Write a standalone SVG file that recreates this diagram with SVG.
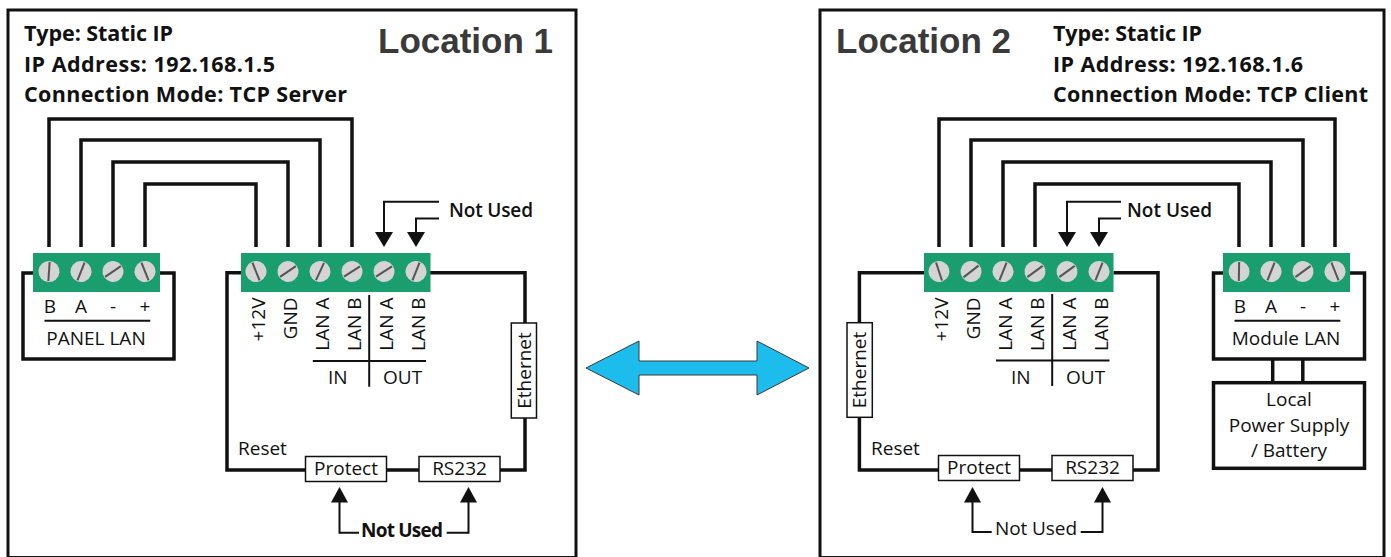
<svg xmlns="http://www.w3.org/2000/svg" width="1391" height="557" viewBox="0 0 1391 557">
<style>
.frame{fill:#fff;stroke:#111;stroke-width:3}
.wire{fill:none;stroke:#111;stroke-width:3.5;stroke-linejoin:miter}
.outline{fill:none;stroke:#111;stroke-width:3.5}
.lead{fill:none;stroke:#111;stroke-width:2}
.thin{fill:#fff;stroke:#111;stroke-width:1.5}
.green{fill:#1b9e6f}
.scr circle{fill:#d4d4d4}
.scr line{stroke:#555;stroke-width:2}
.t{font-family:"Open Sans","Liberation Sans",sans-serif;font-size:19px;fill:#111}
.info{font-family:"Open Sans","Liberation Sans",sans-serif;font-size:21.5px;font-weight:700;fill:#111}
.title{font-family:"Liberation Sans",Arial,sans-serif;font-size:35px;font-weight:700;fill:#3a3a3a}
.nu{font-family:"Open Sans","Liberation Sans",sans-serif;font-size:19px;fill:#111}
.m{text-anchor:middle}
.div{stroke:#111;stroke-width:2}
.head{fill:#111}
</style>
<defs>
<g id="s" class="scr"><circle r="10.5"/><line x1="0" y1="-9.5" x2="0" y2="9.5"/></g>
</defs>

<g id="location1">
<rect class="frame" x="8" y="10" width="568" height="547.5"/>
<text class="info" x="24" y="41" textLength="149">Type: Static IP</text>
<text class="info" x="24" y="72" textLength="251">IP Address: 192.168.1.5</text>
<text class="info" x="24" y="102" textLength="323">Connection Mode: TCP Server</text>
<text class="title" x="378" y="53">Location 1</text>
</g>

<g id="location2">
<rect class="frame" x="820" y="10" width="564" height="547.5"/>
<text class="title" x="836" y="53">Location 2</text>
<text class="info" x="1053" y="41" textLength="149">Type: Static IP</text>
<text class="info" x="1053" y="72" textLength="250">IP Address: 192.168.1.6</text>
<text class="info" x="1053" y="102" textLength="315">Connection Mode: TCP Client</text>
</g>

<g id="connectors">
<path class="wire" d="M49,247V119H352V247"/>
<path class="wire" d="M81,247V140H320V247"/>
<path class="wire" d="M113,247V162H288V247"/>
<path class="wire" d="M145,247V184H256V247"/>
<path class="wire" d="M939,247V119H1335V247"/>
<path class="wire" d="M971,247V140H1303V247"/>
<path class="wire" d="M1003,247V162H1271V247"/>
<path class="wire" d="M1035,247V184H1239V247"/>
<path class="wire" d="M1272.7,359V383"/>
<path class="wire" d="M1302.8,359V383"/>
<polygon id="link-arrow" points="586,368 639,341 639,361 757,361 757,341 809,368 757,395 757,375 639,375 639,395" fill="#1cbcec" stroke="#3a3a3a" stroke-width="1"/>
</g>

<g id="panel-lan">
<rect class="outline" x="23" y="273" width="151" height="86"/>
<rect class="green" x="33" y="253" width="127" height="39"/>
<use href="#s" transform="translate(49,271.5) rotate(4)"/>
<use href="#s" transform="translate(81,271.5) rotate(22)"/>
<use href="#s" transform="translate(113,271.5) rotate(56)"/>
<use href="#s" transform="translate(145,271.5) rotate(-22)"/>
<text class="t m" x="50" y="313">B</text>
<text class="t m" x="81" y="313">A</text>
<text class="t m" x="113" y="313">-</text>
<text class="t m" x="145" y="313">+</text>
<line class="div" x1="44.5" y1="320.7" x2="150.3" y2="320.7"/>
<text class="t m" x="96" y="345">PANEL LAN</text>
</g>

<g id="module1">
<path class="outline" d="M241,272.7H227V470H525V272.7H430"/>
<rect class="green" x="241" y="253" width="189.5" height="39"/>
<use href="#s" transform="translate(256,271.5) rotate(-22)"/>
<use href="#s" transform="translate(288,271.5) rotate(56)"/>
<use href="#s" transform="translate(320,271.5) rotate(25)"/>
<use href="#s" transform="translate(352,271.5) rotate(57)"/>
<use href="#s" transform="translate(384,271.5) rotate(57)"/>
<use href="#s" transform="translate(416,271.5) rotate(22)"/>
<text class="t" text-anchor="end" transform="translate(265,297.5) rotate(-90)">+12V</text>
<text class="t" text-anchor="end" transform="translate(297,297.5) rotate(-90)">GND</text>
<text class="t" text-anchor="end" transform="translate(329,297.5) rotate(-90)">LAN A</text>
<text class="t" text-anchor="end" transform="translate(361,297.5) rotate(-90)">LAN B</text>
<text class="t" text-anchor="end" transform="translate(393,297.5) rotate(-90)">LAN A</text>
<text class="t" text-anchor="end" transform="translate(425,297.5) rotate(-90)">LAN B</text>
<line class="div" x1="369.2" y1="295" x2="369.2" y2="386.7"/>
<line class="div" x1="312.8" y1="361" x2="426" y2="361"/>
<text class="t m" x="337.7" y="384">IN</text>
<text class="t m" x="402.6" y="384">OUT</text>
<text class="t" x="238" y="455">Reset</text>
</g>
<g id="ethernet1">
<rect class="thin" x="511.3" y="323" width="25.2" height="95"/>
<text class="t m" transform="translate(530.5,370.5) rotate(-90)">Ethernet</text>
</g>
<g id="protect1">
<rect class="thin" x="305.5" y="456.5" width="81" height="25"/>
<text class="t m" x="346" y="475">Protect</text>
</g>
<g id="rs232-1">
<rect class="thin" x="419" y="456.5" width="81" height="25"/>
<text class="t m" x="459.5" y="475">RS232</text>
</g>
<g id="notused1-top">
<path class="lead" d="M439,201.7H384V233"/>
<polygon class="head" points="375,232 393,232 384,247"/>
<path class="lead" d="M439,218.5H416V233"/>
<polygon class="head" points="407,232 425,232 416,247"/>
<text class="nu" x="449" y="217" font-weight="600" textLength="84">Not Used</text>
</g>
<g id="notused1-bottom">
<path class="lead" d="M359,532.7H339.5V501"/>
<polygon class="head" points="331,502.5 348,502.5 339.5,487"/>
<path class="lead" stroke-width="3" d="M446.7,532.7H468.5V501"/>
<polygon class="head" points="460,502.5 477,502.5 468.5,487"/>
<text class="nu" x="361" y="536.7" font-weight="700" textLength="82">Not Used</text>
</g>

<g id="module2">
<path class="outline" d="M924,272.7H859.4V470H1158V272.7H1113.5"/>
<rect class="green" x="924" y="253" width="189.5" height="39"/>
<use href="#s" transform="translate(939,271.5) rotate(-18)"/>
<use href="#s" transform="translate(971,271.5) rotate(52)"/>
<use href="#s" transform="translate(1003,271.5) rotate(22)"/>
<use href="#s" transform="translate(1035,271.5) rotate(54)"/>
<use href="#s" transform="translate(1067,271.5) rotate(54)"/>
<use href="#s" transform="translate(1099,271.5) rotate(22)"/>
<text class="t" text-anchor="end" transform="translate(948,297.5) rotate(-90)">+12V</text>
<text class="t" text-anchor="end" transform="translate(980,297.5) rotate(-90)">GND</text>
<text class="t" text-anchor="end" transform="translate(1012,297.5) rotate(-90)">LAN A</text>
<text class="t" text-anchor="end" transform="translate(1044,297.5) rotate(-90)">LAN B</text>
<text class="t" text-anchor="end" transform="translate(1076,297.5) rotate(-90)">LAN A</text>
<text class="t" text-anchor="end" transform="translate(1108,297.5) rotate(-90)">LAN B</text>
<line class="div" x1="1052.2" y1="294" x2="1052.2" y2="386"/>
<line class="div" x1="996" y1="360.5" x2="1109.5" y2="360.5"/>
<text class="t m" x="1020.7" y="384">IN</text>
<text class="t m" x="1085.6" y="384">OUT</text>
<text class="t" x="871" y="454.5">Reset</text>
</g>
<g id="ethernet2">
<rect class="thin" x="847" y="322.7" width="25.3" height="94.6"/>
<text class="t m" transform="translate(866,370) rotate(-90)">Ethernet</text>
</g>
<g id="protect2">
<rect class="thin" x="938.5" y="455.5" width="81" height="25"/>
<text class="t m" x="979" y="474">Protect</text>
</g>
<g id="rs232-2">
<rect class="thin" x="1052" y="455.5" width="81" height="25"/>
<text class="t m" x="1092.5" y="474">RS232</text>
</g>
<g id="module-lan">
<rect class="outline" x="1213.5" y="273" width="151" height="86"/>
<rect class="green" x="1223" y="253" width="127" height="39"/>
<use href="#s" transform="translate(1239,271.5) rotate(1)"/>
<use href="#s" transform="translate(1271,271.5) rotate(22)"/>
<use href="#s" transform="translate(1303,271.5) rotate(54)"/>
<use href="#s" transform="translate(1335,271.5) rotate(-22)"/>
<text class="t m" x="1240" y="313">B</text>
<text class="t m" x="1271" y="313">A</text>
<text class="t m" x="1303" y="313">-</text>
<text class="t m" x="1335" y="313">+</text>
<line class="div" x1="1234.5" y1="320.7" x2="1340.3" y2="320.7"/>
<text class="t m" x="1286" y="345">Module LAN</text>
</g>
<g id="power-supply">
<rect class="outline" x="1213.5" y="382.7" width="151" height="85.6"/>
<text class="t m" x="1289" y="406">Local</text>
<text class="t m" x="1289" y="431.7">Power Supply</text>
<text class="t m" x="1289" y="457">/ Battery</text>
</g>
<g id="notused2-top">
<path class="lead" d="M1121,201.7H1067V233"/>
<polygon class="head" points="1058,232 1076,232 1067,247"/>
<path class="lead" d="M1121,218.5H1099V233"/>
<polygon class="head" points="1090,232 1108,232 1099,247"/>
<text class="nu" x="1127" y="217" font-weight="600" textLength="85">Not Used</text>
</g>
<g id="notused2-bottom">
<path class="lead" d="M991.7,532H972.5V501"/>
<polygon class="head" points="964,502.5 981,502.5 972.5,487"/>
<path class="lead" d="M1080.7,532H1102.5V501"/>
<polygon class="head" points="1094,502.5 1111,502.5 1102.5,487"/>
<text class="nu" x="995" y="535" textLength="82">Not Used</text>
</g>
</svg>
